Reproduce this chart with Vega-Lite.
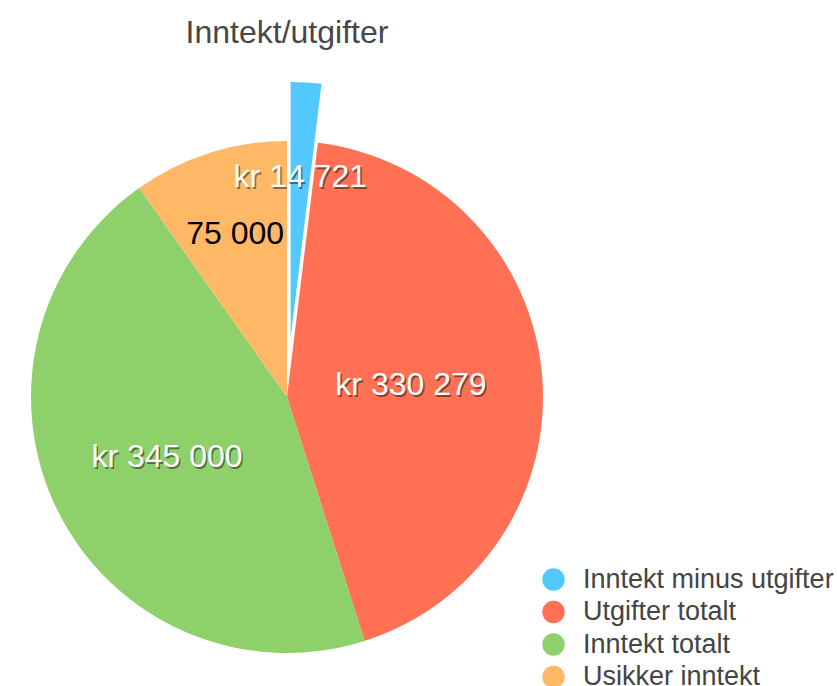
{
  "$schema": "https://vega.github.io/schema/vega-lite/v6.json",
  "width": 574,
  "height": 574,
  "autosize": {"type": "none"},
  "padding": {"left": 0, "top": 110, "right": 263, "bottom": 2},
  "background": "white",
  "title": {
    "text": "Inntekt/utgifter",
    "font": "Liberation Sans",
    "fontSize": 32,
    "fontWeight": "normal",
    "color": "#474747",
    "anchor": "middle",
    "offset": 32
  },
  "config": {
    "view": {"stroke": null},
    "legend": {
      "orient": "none",
      "legendX": 540,
      "legendY": 456,
      "padding": 0,
      "symbolType": "circle",
      "symbolSize": 500,
      "symbolStrokeWidth": 0,
      "labelFont": "Liberation Sans",
      "labelFontSize": 27,
      "labelColor": "#444444",
      "labelOffset": 16,
      "labelLimit": 400,
      "rowPadding": 4.5
    }
  },
  "data": {
    "values": [
      {"nr": 1, "kategori": "Inntekt minus utgifter", "verdi": 14721, "etikett": "kr 14 721"},
      {"nr": 2, "kategori": "Utgifter totalt", "verdi": 330279, "etikett": "kr 330 279"},
      {"nr": 3, "kategori": "Inntekt totalt", "verdi": 345000, "etikett": "kr 345 000"},
      {"nr": 4, "kategori": "Usikker inntekt", "verdi": 75000, "etikett": "75 000"}
    ]
  },
  "encoding": {
    "theta": {"field": "verdi", "type": "quantitative", "stack": true},
    "order": {"field": "nr", "type": "quantitative"}
  },
  "layer": [
    {
      "mark": {"type": "arc", "outerRadius": 256},
      "encoding": {
        "color": {
          "field": "kategori",
          "type": "nominal",
          "scale": {
            "domain": ["Inntekt minus utgifter", "Utgifter totalt", "Inntekt totalt", "Usikker inntekt"],
            "range": ["#52C8FC", "#FF7055", "#8ED06A", "#FFB866"]
          },
          "legend": {"title": null}
        },
        "opacity": {"condition": {"test": "datum.kategori === 'Inntekt minus utgifter'", "value": 0}, "value": 1}
      }
    },
    {
      "mark": {"type": "arc", "outerRadius": 256, "xOffset": 3.6, "yOffset": -59},
      "encoding": {
        "color": {"field": "kategori", "type": "nominal"},
        "opacity": {"condition": {"test": "datum.kategori === 'Inntekt minus utgifter'", "value": 1}, "value": 0}
      }
    },
    {
      "encoding": {
        "detail": {"field": "kategori"},
        "text": {"field": "etikett"},
        "opacity": {"condition": {"test": "datum.kategori === 'Inntekt minus utgifter'", "value": 1}, "value": 0}
      },
      "layer": [
        {"mark": {"type": "text", "radius": 161, "xOffset": 3.6, "yOffset": -59, "font": "Liberation Sans", "fontSize": 32, "color": "#000000", "fillOpacity": 0.45, "dx": 1.5, "dy": 2}},
        {"mark": {"type": "text", "radius": 161, "xOffset": 3.6, "yOffset": -59, "font": "Liberation Sans", "fontSize": 32, "color": "#ffffff"}}
      ]
    },
    {
      "encoding": {
        "detail": {"field": "kategori"},
        "text": {"field": "etikett"},
        "opacity": {"condition": {"test": "datum.kategori === 'Utgifter totalt'", "value": 1}, "value": 0}
      },
      "layer": [
        {"mark": {"type": "text", "radius": 124.5, "font": "Liberation Sans", "fontSize": 32, "color": "#000000", "fillOpacity": 0.45, "dx": 1.5, "dy": 2}},
        {"mark": {"type": "text", "radius": 124.5, "font": "Liberation Sans", "fontSize": 32, "color": "#ffffff"}}
      ]
    },
    {
      "encoding": {
        "detail": {"field": "kategori"},
        "text": {"field": "etikett"},
        "opacity": {"condition": {"test": "datum.kategori === 'Inntekt totalt'", "value": 1}, "value": 0}
      },
      "layer": [
        {"mark": {"type": "text", "radius": 134, "font": "Liberation Sans", "fontSize": 32, "color": "#000000", "fillOpacity": 0.45, "dx": 1.5, "dy": 2}},
        {"mark": {"type": "text", "radius": 134, "font": "Liberation Sans", "fontSize": 32, "color": "#ffffff"}}
      ]
    },
    {
      "mark": {"type": "text", "radius": 171, "font": "Liberation Sans", "fontSize": 32, "color": "#000000"},
      "encoding": {
        "detail": {"field": "kategori"},
        "text": {"field": "etikett"},
        "opacity": {"condition": {"test": "datum.kategori === 'Usikker inntekt'", "value": 1}, "value": 0}
      }
    }
  ]
}
